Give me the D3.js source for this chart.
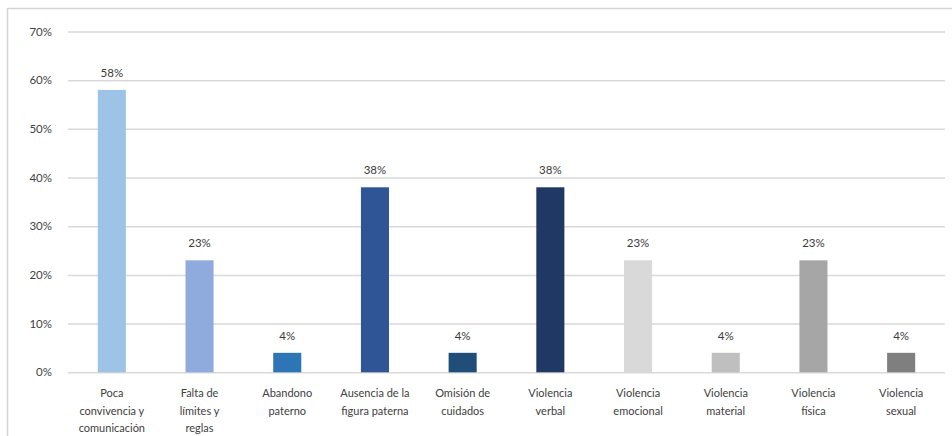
<!DOCTYPE html>
<html>
<head>
<meta charset="utf-8">
<script src="https://cdn.jsdelivr.net/npm/d3@7"></script>
<style>
  html, body { margin: 0; padding: 0; background: #ffffff; }
  svg { display: block; }
  text { font-family: Lato, "Open Sans", "Liberation Sans", sans-serif; }
</style>
</head>
<body>
<svg id="chart" width="952" height="436"></svg>
<script>
// Categories (each entry is a list of label lines)
const categories = [
  ["Poca", "convivencia y", "comunicación"],
  ["Falta de", "límites y", "reglas"],
  ["Abandono", "paterno"],
  ["Ausencia de la", "figura paterna"],
  ["Omisión de", "cuidados"],
  ["Violencia", "verbal"],
  ["Violencia", "emocional"],
  ["Violencia", "material"],
  ["Violencia", "física"],
  ["Violencia", "sexual"]
];
// Percentages per category
const values = [58, 23, 4, 38, 4, 38, 23, 4, 23, 4];
// Bar colours per category
const barColors = ["#9DC3E6", "#8FAADC", "#2E75B6", "#2F5597", "#1F4E79",
                   "#203864", "#D9D9D9", "#BFBFBF", "#A6A6A6", "#7F7F7F"];
// Y axis ticks
const yTicks = [0, 10, 20, 30, 40, 50, 60, 70];

const svg = d3.select("#chart");
const W = 952, H = 436;
const x0 = 68, x1 = 945;
const yBase = 372.3, yTop = 31.5;

// Chart frame (top and left edges visible)
svg.append("line").attr("x1", 8).attr("x2", W).attr("y1", 8.5).attr("y2", 8.5)
  .attr("stroke", "#d4d4d4").attr("stroke-width", 1.5);
svg.append("line").attr("x1", 7.5).attr("x2", 7.5).attr("y1", 8).attr("y2", H)
  .attr("stroke", "#d4d4d4").attr("stroke-width", 1.5);

const x = d3.scaleBand()
  .domain(d3.range(categories.length))
  .range([x0, x1])
  .paddingInner(0.68)
  .paddingOuter(0.34);

const y = d3.scaleLinear().domain([0, 70]).range([yBase, yTop]);

// Gridlines and y tick labels
const yAxis = d3.axisLeft(y)
  .tickValues(yTicks)
  .tickSize(-(x1 - x0))
  .tickPadding(16)
  .tickFormat(d => d + "%");

const gy = svg.append("g").attr("transform", `translate(${x0},0)`).call(yAxis);
gy.select(".domain").remove();
gy.selectAll(".tick line").attr("stroke", "#d9d9d9").attr("stroke-width", 1.5);
gy.selectAll(".tick text")
  .attr("fill", "#3f3f3f")
  .style("font-size", "11.5px")
  .style("font-family", "Lato, 'Open Sans', sans-serif");

// Bars
svg.append("g").selectAll("rect")
  .data(values)
  .join("rect")
  .attr("x", (d, i) => x(i))
  .attr("y", d => y(d))
  .attr("width", x.bandwidth())
  .attr("height", d => y(0) - y(d))
  .attr("fill", (d, i) => barColors[i]);

// Value labels
svg.append("g").selectAll("text")
  .data(values)
  .join("text")
  .attr("x", (d, i) => x(i) + x.bandwidth() / 2)
  .attr("y", d => y(d) - 13)
  .attr("text-anchor", "middle")
  .attr("fill", "#3a3a3a")
  .style("font-size", "11.5px")
  .text(d => d + "%");

// Category labels
const xAxis = d3.axisBottom(x).tickSize(0).tickFormat("");
const gx = svg.append("g").attr("transform", `translate(0,${yBase})`).call(xAxis);
gx.select(".domain").remove();

const lab = svg.append("g").selectAll("text")
  .data(categories)
  .join("text")
  .attr("x", (d, i) => x(i) + x.bandwidth() / 2)
  .attr("y", 397)
  .attr("text-anchor", "middle")
  .attr("fill", "#404040")
  .style("font-size", "11px");
lab.selectAll("tspan")
  .data(d => d)
  .join("tspan")
  .attr("x", function () { return d3.select(this.parentNode).attr("x"); })
  .attr("dy", (d, j) => j === 0 ? 0 : 17.5)
  .text(d => d);
</script>
</body>
</html>
